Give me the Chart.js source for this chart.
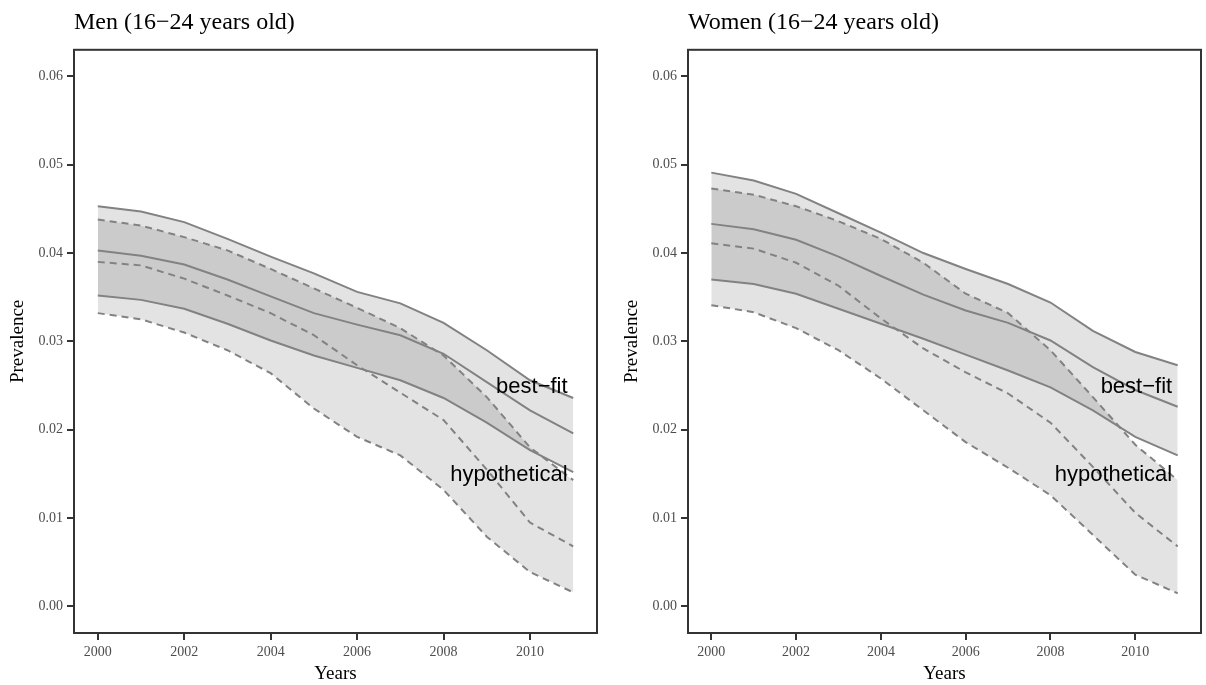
<!DOCTYPE html>
<html>
<head>
<meta charset="utf-8">
<script src="https://cdn.jsdelivr.net/npm/chart.js@4/dist/chart.umd.min.js"></script>
<style>
  html, body { margin: 0; padding: 0; background: #fff; }
  #wrap { position: relative; width: 1206px; height: 685px; }
  .panel { position: absolute; top: 0; height: 685px; }
  #men_box { left: 0; width: 603px; }
  #women_box { left: 614px; width: 592px; }
</style>
</head>
<body>
<div id="wrap">
  <div class="panel" id="men_box"><canvas id="men_canvas"></canvas></div>
  <div class="panel" id="women_box"><canvas id="women_canvas"></canvas></div>
</div>
<script>
const years = [2000, 2001, 2002, 2003, 2004, 2005, 2006, 2007, 2008, 2009, 2010, 2011]
const x_ticks = [2000, 2002, 2004, 2006, 2008, 2010]
const y_ticks = [0, 0.01, 0.02, 0.03, 0.04, 0.05, 0.06]

// men, best-fit (solid)
const men_best_upper = [0.0453, 0.0447, 0.0435, 0.0416, 0.0396, 0.0377, 0.0356, 0.0343, 0.0321, 0.0290, 0.0256, 0.0236]
const men_best_mid   = [0.0403, 0.0397, 0.0387, 0.0370, 0.0351, 0.0332, 0.0319, 0.0307, 0.0286, 0.0254, 0.0222, 0.0196]
const men_best_lower = [0.0352, 0.0347, 0.0337, 0.0320, 0.0301, 0.0284, 0.0270, 0.0256, 0.0236, 0.0208, 0.0177, 0.0152]
// men, hypothetical (dashed)
const men_hyp_upper = [0.0438, 0.0431, 0.0418, 0.0403, 0.0382, 0.0360, 0.0338, 0.0315, 0.0284, 0.0237, 0.0180, 0.0143]
const men_hyp_mid   = [0.0390, 0.0386, 0.0371, 0.0352, 0.0332, 0.0307, 0.0273, 0.0242, 0.0211, 0.0155, 0.0095, 0.0068]
const men_hyp_lower = [0.0332, 0.0325, 0.0310, 0.0290, 0.0264, 0.0224, 0.0192, 0.0171, 0.0132, 0.0079, 0.0039, 0.0016]

// women, best-fit (solid)
const women_best_upper = [0.0491, 0.0482, 0.0467, 0.0445, 0.0423, 0.0400, 0.0382, 0.0365, 0.0344, 0.0312, 0.0288, 0.0273]
const women_best_mid   = [0.0433, 0.0427, 0.0415, 0.0396, 0.0374, 0.0353, 0.0335, 0.0321, 0.0301, 0.0271, 0.0245, 0.0226]
const women_best_lower = [0.0370, 0.0365, 0.0354, 0.0337, 0.0320, 0.0303, 0.0285, 0.0267, 0.0248, 0.0222, 0.0192, 0.0171]
// women, hypothetical (dashed)
const women_hyp_upper = [0.0473, 0.0466, 0.0453, 0.0436, 0.0416, 0.0389, 0.0354, 0.0332, 0.0290, 0.0237, 0.0183, 0.0143]
const women_hyp_mid   = [0.0411, 0.0405, 0.0389, 0.0363, 0.0326, 0.0292, 0.0265, 0.0241, 0.0208, 0.0158, 0.0106, 0.0068]
const women_hyp_lower = [0.0341, 0.0333, 0.0315, 0.0290, 0.0258, 0.0222, 0.0186, 0.0157, 0.0126, 0.0081, 0.0036, 0.0015]

// text labels inside each panel (right-aligned at label_x)
const label_texts = ["best\u2212fit", "hypothetical"]
const label_x = 2010.87
const label_y = [0.0249, 0.0149]

const line_grey = "#828282"
const band_fill = "rgba(0,0,0,0.11)"
const frame_col = "#333333"

function to_points(vals) {
    return vals.map((v, i) => ({x: years[i], y: v}))
}

function make_line(vals, dashed, fill_to) {
    return {
        data: to_points(vals),
        borderColor: line_grey,
        borderWidth: 2,
        borderDash: dashed ? [7, 5] : [],
        pointRadius: 0,
        tension: 0,
        fill: fill_to === undefined ? false : fill_to,
        backgroundColor: band_fill
    }
}

// box around the plot area
const frame_plugin = {
    id: "frame",
    afterDraw(chart) {
        const a = chart.chartArea
        const c = chart.ctx
        c.save()
        c.strokeStyle = frame_col
        c.lineWidth = 2
        c.strokeRect(a.left, a.top, a.right - a.left, a.bottom - a.top)
        c.restore()
    }
}

// "best-fit" / "hypothetical" labels placed through the scales
const label_plugin = {
    id: "band_labels",
    afterDatasetsDraw(chart) {
        const c = chart.ctx
        const xs = chart.scales.x
        const ys = chart.scales.y
        c.save()
        c.font = "22px 'Liberation Sans', Arial, sans-serif"
        c.fillStyle = "#000"
        c.textAlign = "right"
        c.textBaseline = "middle"
        label_texts.forEach((t, i) => {
            c.fillText(t, xs.getPixelForValue(label_x), ys.getPixelForValue(label_y[i]))
        })
        c.restore()
    }
}

function make_chart(canvas_id, title, series) {
    const ctx = document.getElementById(canvas_id).getContext("2d")
    const serif = "'Liberation Serif', 'Times New Roman', serif"
    return new Chart(ctx, {
        type: "line",
        data: {
            datasets: [
                make_line(series[0], false, "+2"),
                make_line(series[1], false),
                make_line(series[2], false),
                make_line(series[3], true, "+2"),
                make_line(series[4], true),
                make_line(series[5], true)
            ]
        },
        options: {
            responsive: true,
            maintainAspectRatio: false,
            animation: false,
            layout: { padding: { left: 0, right: canvas_id === "men_canvas" ? 6 : 5, top: 0, bottom: 0 } },
            plugins: {
                legend: { display: false },
                tooltip: { enabled: false },
                filler: { drawTime: "beforeDatasetsDraw" },
                title: {
                    display: true,
                    text: title,
                    align: "start",
                    fullSize: false,
                    color: "#000",
                    font: { family: serif, size: 24, weight: "normal" },
                    padding: { top: 8, bottom: 13 }
                }
            },
            scales: {
                x: {
                    type: "linear",
                    min: 1999.45,
                    max: 2011.55,
                    afterBuildTicks: (s) => { s.ticks = x_ticks.map(v => ({value: v})) },
                    afterFit: (s) => { s.height = 52 },
                    ticks: {
                        color: "#4d4d4d",
                        font: { family: serif, size: 14 },
                        padding: 4,
                        maxRotation: 0,
                        callback: (v) => String(v)
                    },
                    grid: {
                        drawOnChartArea: false,
                        drawTicks: true,
                        tickLength: 7,
                        color: frame_col,
                        lineWidth: 2
                    },
                    border: { display: false },
                    title: {
                        display: true,
                        text: "Years",
                        color: "#000",
                        font: { family: serif, size: 19 },
                        padding: { top: 0, bottom: 0 }
                    }
                },
                y: {
                    type: "linear",
                    min: -0.003,
                    max: 0.063,
                    afterBuildTicks: (s) => { s.ticks = y_ticks.map(v => ({value: v})) },
                    afterFit: (s) => { s.width = 74 },
                    ticks: {
                        color: "#4d4d4d",
                        font: { family: serif, size: 14 },
                        padding: 4,
                        callback: (v) => Number(v).toFixed(2)
                    },
                    grid: {
                        drawOnChartArea: false,
                        drawTicks: true,
                        tickLength: 7,
                        color: frame_col,
                        lineWidth: 2
                    },
                    border: { display: false },
                    title: {
                        display: true,
                        text: "Prevalence",
                        color: "#000",
                        font: { family: serif, size: 19 },
                        padding: { top: 7, bottom: 0 }
                    }
                }
            }
        },
        plugins: [frame_plugin, label_plugin]
    })
}

make_chart("men_canvas", "Men (16\u221224 years old)",
    [men_best_upper, men_best_mid, men_best_lower, men_hyp_upper, men_hyp_mid, men_hyp_lower])
make_chart("women_canvas", "Women (16\u221224 years old)",
    [women_best_upper, women_best_mid, women_best_lower, women_hyp_upper, women_hyp_mid, women_hyp_lower])
</script>
</body>
</html>
